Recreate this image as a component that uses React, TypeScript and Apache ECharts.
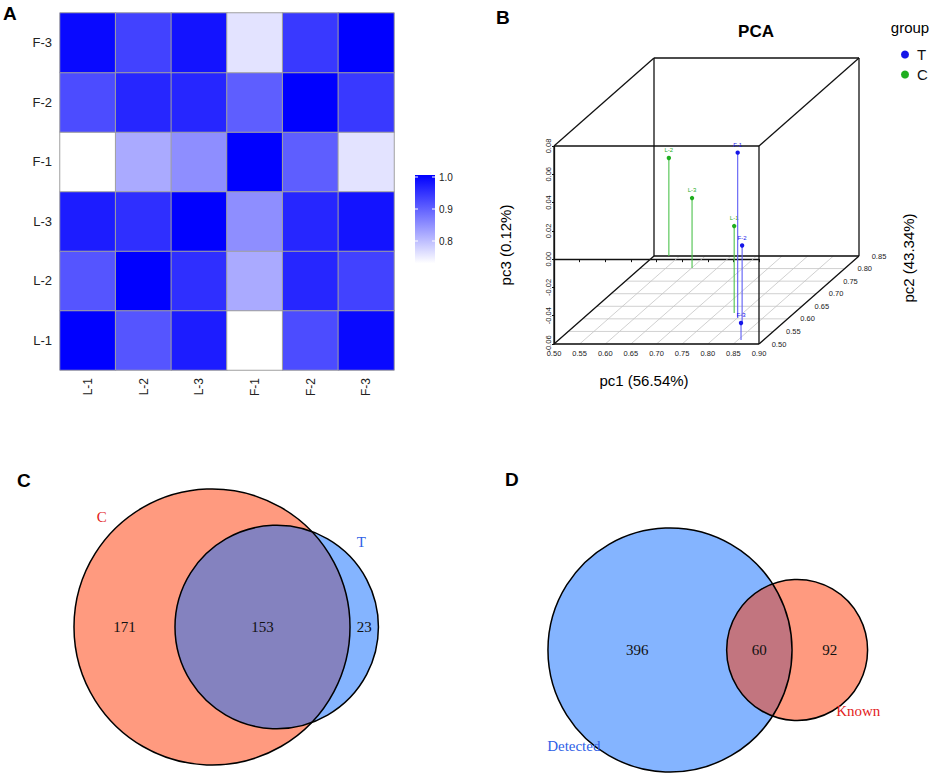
import React, { useEffect, useRef } from 'react';
import * as echarts from 'echarts';

// ---------- Data: panel A (correlation heatmap) ----------
const samples = ['L-1', 'L-2', 'L-3', 'F-1', 'F-2', 'F-3'];
const corrL1 = [1.0, 0.91, 0.97, 0.73, 0.92, 0.99];
const corrL2 = [0.91, 1.0, 0.95, 0.82, 0.96, 0.93];
const corrL3 = [0.97, 0.95, 1.0, 0.85, 0.96, 0.98];
const corrF1 = [0.73, 0.82, 0.85, 1.0, 0.9, 0.76];
const corrF2 = [0.92, 0.96, 0.96, 0.9, 1.0, 0.94];
const corrF3 = [0.99, 0.93, 0.98, 0.76, 0.94, 1.0];
const corrRows = [corrL1, corrL2, corrL3, corrF1, corrF2, corrF3];
const corrMin = 0.73;
const corrMax = 1.0;
const colorbarTicks = [0.8, 0.9, 1.0];

// ---------- Data: panel B (3D PCA) ----------
const pcaTNames = ['F-1', 'F-2', 'F-3'];
const pcaTpc1 = [0.801, 0.818, 0.856];
const pcaTpc2 = [0.603, 0.588, 0.516];
const pcaTpc3 = [0.057, -0.006, -0.048];
const pcaCNames = ['L-1', 'L-2', 'L-3'];
const pcaCpc1 = [0.783, 0.529, 0.601];
const pcaCpc2 = [0.623, 0.85, 0.802];
const pcaCpc3 = [0.0015, 0.0093, -0.0105];
const pc2Ticks = [0.5, 0.55, 0.6, 0.65, 0.7, 0.75, 0.8, 0.85];
const pc1Range = [0.5, 0.9];
const pc3Range = [-0.06, 0.08];
const pc2Range = [0.5, 0.85];

// ---------- Data: panels C, D (Venn) ----------
const vennCNames = ['C', 'T'];
const vennCCounts = [171, 153, 23]; // onlyA, both, onlyB
const vennDNames = ['Detected', 'Known'];
const vennDCounts = [396, 60, 92];

// ---------- Layout / style ----------
const SANS = 'Liberation Sans, Arial, sans-serif';
const SERIF = 'Liberation Serif, Times New Roman, serif';
const DEPTH = [100, -88];
const T_COLOR = '#1515e8';
const T_STEM = '#5d5df5';
const C_COLOR = '#1fae1f';
const C_STEM = '#4cc24c';
const BLUE_FILL = 'rgba(10,105,255,0.5)';
const SALMON_FILL = 'rgba(255,53,0,0.5)';
const RED_TXT = '#e3221c';
const BLUE_TXT = '#2f5fe6';

const gridVC = { left: 0, top: 395, width: 470, height: 380 };
const gridVD = { left: 470, top: 395, width: 471, height: 380 };
const layoutVC = { cx: 212, cy: 627, scale: 13.59 };
const layoutVD = { cx: 670, cy: 650, scale: 10.13 };

function vennAxes(g: any, l: any) {
  return {
    xmin: (g.left - l.cx) / l.scale,
    xmax: (g.left + g.width - l.cx) / l.scale,
    ymin: (l.cy - g.top - g.height) / l.scale,
    ymax: (l.cy - g.top) / l.scale,
  };
}

function lensArea(r1: number, r2: number, d: number) {
  if (d >= r1 + r2) return 0;
  if (d <= Math.abs(r1 - r2)) return Math.PI * Math.min(r1, r2) ** 2;
  const a1 = r1 * r1 * Math.acos((d * d + r1 * r1 - r2 * r2) / (2 * d * r1));
  const a2 = r2 * r2 * Math.acos((d * d + r2 * r2 - r1 * r1) / (2 * d * r2));
  const a3 = 0.5 * Math.sqrt((-d + r1 + r2) * (d + r1 - r2) * (d - r1 + r2) * (d + r1 + r2));
  return a1 + a2 - a3;
}

function solveDistance(r1: number, r2: number, overlap: number) {
  let lo = Math.abs(r1 - r2);
  let hi = r1 + r2;
  for (let i = 0; i < 80; i++) {
    const mid = (lo + hi) / 2;
    if (lensArea(r1, r2, mid) > overlap) lo = mid;
    else hi = mid;
  }
  return (lo + hi) / 2;
}

function txt(x: number, y: number, text: string, o: any = {}) {
  return {
    type: 'text',
    x,
    y,
    rotation: o.rotation || 0,
    style: {
      text,
      fill: o.fill || '#000',
      fontSize: o.fontSize || 12,
      fontFamily: o.fontFamily || SANS,
      fontWeight: o.fontWeight || 'normal',
      align: o.align || 'center',
      verticalAlign: o.verticalAlign || 'middle',
      textAlign: o.align || 'center',
      textVerticalAlign: o.verticalAlign || 'middle',
    },
  };
}

function makeVennRender(counts: number[], names: string[], fills: string[], labelColors: string[], catDirs: number[][], catGaps: number[]) {
  return (params: any, api: any) => {
    const [onlyA, both, onlyB] = counts;
    const rA = Math.sqrt((onlyA + both) / Math.PI);
    const rB = Math.sqrt((onlyB + both) / Math.PI);
    const d = solveDistance(rA, rB, both);
    const cA = api.coord([0, 0]);
    const cB = api.coord([d, 0]);
    const s = api.size([1, 1])[0];
    const RA = rA * s;
    const RB = rB * s;
    const y = cA[1];
    const leftA = cA[0] - RA, rightA = cA[0] + RA;
    const leftB = cB[0] - RB, rightB = cB[0] + RB;
    const numStyle = { fontSize: 15, fontFamily: SERIF, fill: '#111' };
    const children: any[] = [
      { type: 'circle', shape: { cx: cA[0], cy: cA[1], r: RA }, style: { fill: fills[0], stroke: 'none' } },
      { type: 'circle', shape: { cx: cB[0], cy: cB[1], r: RB }, style: { fill: fills[1], stroke: 'none' } },
      { type: 'circle', shape: { cx: cA[0], cy: cA[1], r: RA }, style: { fill: 'none', stroke: '#000', lineWidth: 1.5 } },
      { type: 'circle', shape: { cx: cB[0], cy: cB[1], r: RB }, style: { fill: 'none', stroke: '#000', lineWidth: 1.5 } },
      txt((leftA + leftB) / 2, y, String(onlyA), numStyle),
      txt((leftB + rightA) / 2, y, String(both), numStyle),
      txt((rightA + rightB) / 2, y, String(onlyB), numStyle),
      txt(cA[0] + (RA + catGaps[0]) * catDirs[0][0], cA[1] + (RA + catGaps[0]) * catDirs[0][1], names[0], { fontSize: 15, fontFamily: SERIF, fill: labelColors[0] }),
      txt(cB[0] + (RB + catGaps[1]) * catDirs[1][0], cB[1] + (RB + catGaps[1]) * catDirs[1][1], names[1], { fontSize: 15, fontFamily: SERIF, fill: labelColors[1] }),
    ];
    return { type: 'group', children };
  };
}

function proj(api: any, x: number, y: number, z: number) {
  const p = api.coord([x, z]);
  const f = (y - pc2Range[0]) / (pc2Range[1] - pc2Range[0]);
  return [p[0] + f * DEPTH[0], p[1] + f * DEPTH[1]];
}

function ln(a: number[], b: number[], stroke: string, lineWidth: number) {
  return { type: 'line', shape: { x1: a[0], y1: a[1], x2: b[0], y2: b[1] }, style: { stroke, lineWidth } };
}

function renderBox(params: any, api: any) {
  const children: any[] = [];
  const [x0, x1] = pc1Range;
  const [y0, y1] = pc2Range;
  const [z0, z1] = pc3Range;
  const pc1Ticks: number[] = [];
  for (let i = 0; i <= 8; i++) pc1Ticks.push(x0 + i * 0.05);
  // floor grid
  pc2Ticks.forEach((v) => children.push(ln(proj(api, x0, v, z0), proj(api, x1, v, z0), '#c4c4c4', 0.8)));
  pc1Ticks.forEach((v) => children.push(ln(proj(api, v, y0, z0), proj(api, v, y1, z0), '#c4c4c4', 0.8)));
  // box
  const P = (x: number, y: number, z: number) => proj(api, x, y, z);
  const k = '#111';
  const w = 1.3;
  for (const y of [y0, y1]) {
    children.push(ln(P(x0, y, z1), P(x1, y, z1), k, w));
    children.push(ln(P(x1, y, z1), P(x1, y, z0), k, w));
    children.push(ln(P(x1, y, z0), P(x0, y, z0), k, w));
    children.push(ln(P(x0, y, z0), P(x0, y, z1), k, w));
  }
  for (const x of [x0, x1]) for (const z of [z0, z1]) children.push(ln(P(x, y0, z), P(x, y1, z), k, w));
  // pc2 axis labels
  pc2Ticks.forEach((v) => {
    const p = P(x1, v, z0);
    children.push(txt(p[0] + 20, p[1], v.toFixed(2), { fontSize: 7.5, fill: '#222' }));
  });
  return { type: 'group', children };
}

function makePointRender(names: string[], color: string, stem: string) {
  return (params: any, api: any) => {
    const x = api.value(0);
    const z = api.value(1);
    const y = api.value(2);
    const top = proj(api, x, y, z);
    const base = proj(api, x, y, pc3Range[0]);
    return {
      type: 'group',
      children: [
        ln(base, top, stem, 1.1),
        { type: 'circle', shape: { cx: top[0], cy: top[1], r: 2.2 }, style: { fill: color } },
        txt(top[0], top[1] - 8, names[params.dataIndex], { fontSize: 6, fill: color }),
      ],
    };
  };
}

export default function App() {
  const ref = useRef<HTMLDivElement>(null);
  useEffect(() => {
    if (!ref.current) return;
    const chart = echarts.init(ref.current, null, { renderer: 'svg' });

    const heatData: any[] = [];
    corrRows.forEach((row, yi) => row.forEach((v, xi) => heatData.push([xi, yi, v])));

    const tData = pcaTpc1.map((v, i) => [v, pcaTpc3[i], pcaTpc2[i]]);
    const cData = pcaCpc1.map((v, i) => [v, pcaCpc3[i], pcaCpc2[i]]);

    const axC = vennAxes(gridVC, layoutVC);
    const axD = vennAxes(gridVD, layoutVD);

    // colorbar
    const cbX = 415, cbW = 20, cbTopVal = 1.006, cbY1 = 177, cbPx = 320;
    const vy = (v: number) => cbY1 + (corrMax - v) * cbPx;
    const graphics: any[] = [
      {
        type: 'rect',
        shape: { x: cbX, y: vy(cbTopVal), width: cbW, height: vy(corrMin) - vy(cbTopVal) },
        style: {
          fill: new echarts.graphic.LinearGradient(0, 0, 0, 1, [
            { offset: 0, color: '#0000ff' },
            { offset: 1, color: '#ffffff' },
          ]),
        },
      },
    ];
    colorbarTicks.forEach((t) => {
      const yy = vy(t);
      graphics.push({ type: 'line', shape: { x1: cbX, y1: yy, x2: cbX + 3, y2: yy }, style: { stroke: '#fff', lineWidth: 1 } });
      graphics.push({ type: 'line', shape: { x1: cbX + cbW - 3, y1: yy, x2: cbX + cbW, y2: yy }, style: { stroke: '#fff', lineWidth: 1 } });
      graphics.push(txt(cbX + 24, yy, t.toFixed(1), { fontSize: 10, align: 'left', fill: '#222' }));
    });
    graphics.push(txt(3, 13, 'A', { fontSize: 19, fontWeight: 'bold', align: 'left' }));
    graphics.push(txt(496, 17, 'B', { fontSize: 19, fontWeight: 'bold', align: 'left' }));
    graphics.push(txt(17, 480, 'C', { fontSize: 19, fontWeight: 'bold', align: 'left' }));
    graphics.push(txt(505, 479, 'D', { fontSize: 19, fontWeight: 'bold', align: 'left' }));
    graphics.push(txt(756, 31, 'PCA', { fontSize: 17, fontWeight: 'bold' }));
    graphics.push(txt(910, 27, 'group', { fontSize: 15 }));
    graphics.push(txt(644, 380, 'pc1 (56.54%)', { fontSize: 15 }));
    graphics.push(txt(908, 258, 'pc2 (43.34%)', { fontSize: 15, rotation: Math.PI / 2 }));

    const option: any = {
      animation: false,
      backgroundColor: '#ffffff',
      textStyle: { fontFamily: SANS },
      grid: [
        { left: 60, top: 13, width: 334, height: 357, outerBoundsMode: 'none', containLabel: false },
        { left: 554, top: 146, width: 205, height: 198, outerBoundsMode: 'none', containLabel: false },
        { ...gridVC, outerBoundsMode: 'none', containLabel: false },
        { ...gridVD, outerBoundsMode: 'none', containLabel: false },
      ],
      xAxis: [
        {
          type: 'category', gridIndex: 0, data: samples,
          axisLine: { show: false }, axisTick: { show: false }, splitLine: { show: false },
          axisLabel: { rotate: 90, fontSize: 12, color: '#222', margin: 8, interval: 0 },
        },
        {
          type: 'value', gridIndex: 1, min: pc1Range[0], max: pc1Range[1], interval: 0.05,
          axisLine: { show: true, lineStyle: { color: '#111', width: 1.3 } },
          axisTick: { show: true, length: 3, lineStyle: { color: '#111' } },
          splitLine: { show: false },
          axisLabel: { fontSize: 7.5, color: '#222', margin: 5, formatter: (v: number) => v.toFixed(2), showMinLabel: true, showMaxLabel: true },
        },
        { type: 'value', gridIndex: 2, min: axC.xmin, max: axC.xmax, show: false },
        { type: 'value', gridIndex: 3, min: axD.xmin, max: axD.xmax, show: false },
      ],
      yAxis: [
        {
          type: 'category', gridIndex: 0, data: samples,
          axisLine: { show: false }, axisTick: { show: false }, splitLine: { show: false },
          axisLabel: { fontSize: 13, color: '#222', margin: 8, interval: 0 },
        },
        {
          type: 'value', gridIndex: 1, min: pc3Range[0], max: pc3Range[1], interval: 0.02,
          name: 'pc3 (0.12%)', nameLocation: 'middle', nameGap: 41, nameRotate: 90,
          nameTextStyle: { fontSize: 15, color: '#000', fontFamily: SANS },
          axisLine: { show: true, lineStyle: { color: '#111', width: 1.3 } },
          axisTick: { show: true, length: 2, lineStyle: { color: '#111' } },
          splitLine: { show: false },
          axisLabel: { rotate: 90, fontSize: 7.5, color: '#222', margin: 2, formatter: (v: number) => v.toFixed(2), showMinLabel: true, showMaxLabel: true },
        },
        { type: 'value', gridIndex: 2, min: axC.ymin, max: axC.ymax, show: false },
        { type: 'value', gridIndex: 3, min: axD.ymin, max: axD.ymax, show: false },
      ],
      visualMap: {
        type: 'continuous', show: false, min: corrMin, max: corrMax, dimension: 2, seriesIndex: 0,
        inRange: { color: ['#ffffff', '#0000ff'] },
      },
      legend: {
        show: true, orient: 'vertical', left: 896, top: 42, itemWidth: 8, itemHeight: 8, itemGap: 5,
        selectedMode: false, icon: 'circle',
        textStyle: { fontSize: 15, color: '#111', fontFamily: SANS, padding: [0, 0, 0, 3] },
        data: ['T', 'C'],
      },
      graphic: graphics,
      series: [
        {
          type: 'heatmap', xAxisIndex: 0, yAxisIndex: 0, data: heatData,
          itemStyle: { borderColor: '#a0a0a0', borderWidth: 1 },
          emphasis: { disabled: true }, silent: true,
        },
        {
          type: 'custom', name: 'box', xAxisIndex: 1, yAxisIndex: 1, data: [[pc1Range[0], pc3Range[0]]],
          renderItem: renderBox, silent: true, clip: false, z: 1,
        },
        {
          type: 'custom', name: 'T', xAxisIndex: 1, yAxisIndex: 1, data: tData,
          encode: { x: 0, y: 1 }, itemStyle: { color: T_COLOR },
          renderItem: makePointRender(pcaTNames, T_COLOR, T_STEM), clip: false, z: 3, silent: true,
        },
        {
          type: 'custom', name: 'C', xAxisIndex: 1, yAxisIndex: 1, data: cData,
          encode: { x: 0, y: 1 }, itemStyle: { color: C_COLOR },
          renderItem: makePointRender(pcaCNames, C_COLOR, C_STEM), clip: false, z: 2, silent: true,
        },
        {
          type: 'custom', name: 'vennC', xAxisIndex: 2, yAxisIndex: 2, data: [[0, 0]], clip: false, silent: true,
          renderItem: makeVennRender(vennCCounts, vennCNames, [SALMON_FILL, BLUE_FILL], [RED_TXT, BLUE_TXT],
            [[-0.7071, -0.7071], [0.7071, -0.7071]], [18, 18]),
        },
        {
          type: 'custom', name: 'vennD', xAxisIndex: 3, yAxisIndex: 3, data: [[0, 0]], clip: false, silent: true,
          renderItem: makeVennRender(vennDCounts, vennDNames, [BLUE_FILL, SALMON_FILL], [BLUE_TXT, RED_TXT],
            [[-0.7071, 0.7071], [0.7071, 0.7071]], [14, 16]),
        },
      ],
    };
    chart.setOption(option);
    return () => chart.dispose();
  }, []);
  return <div ref={ref} style={{ position: 'fixed', left: 0, top: 0, width: 941, height: 777 }} />;
}
